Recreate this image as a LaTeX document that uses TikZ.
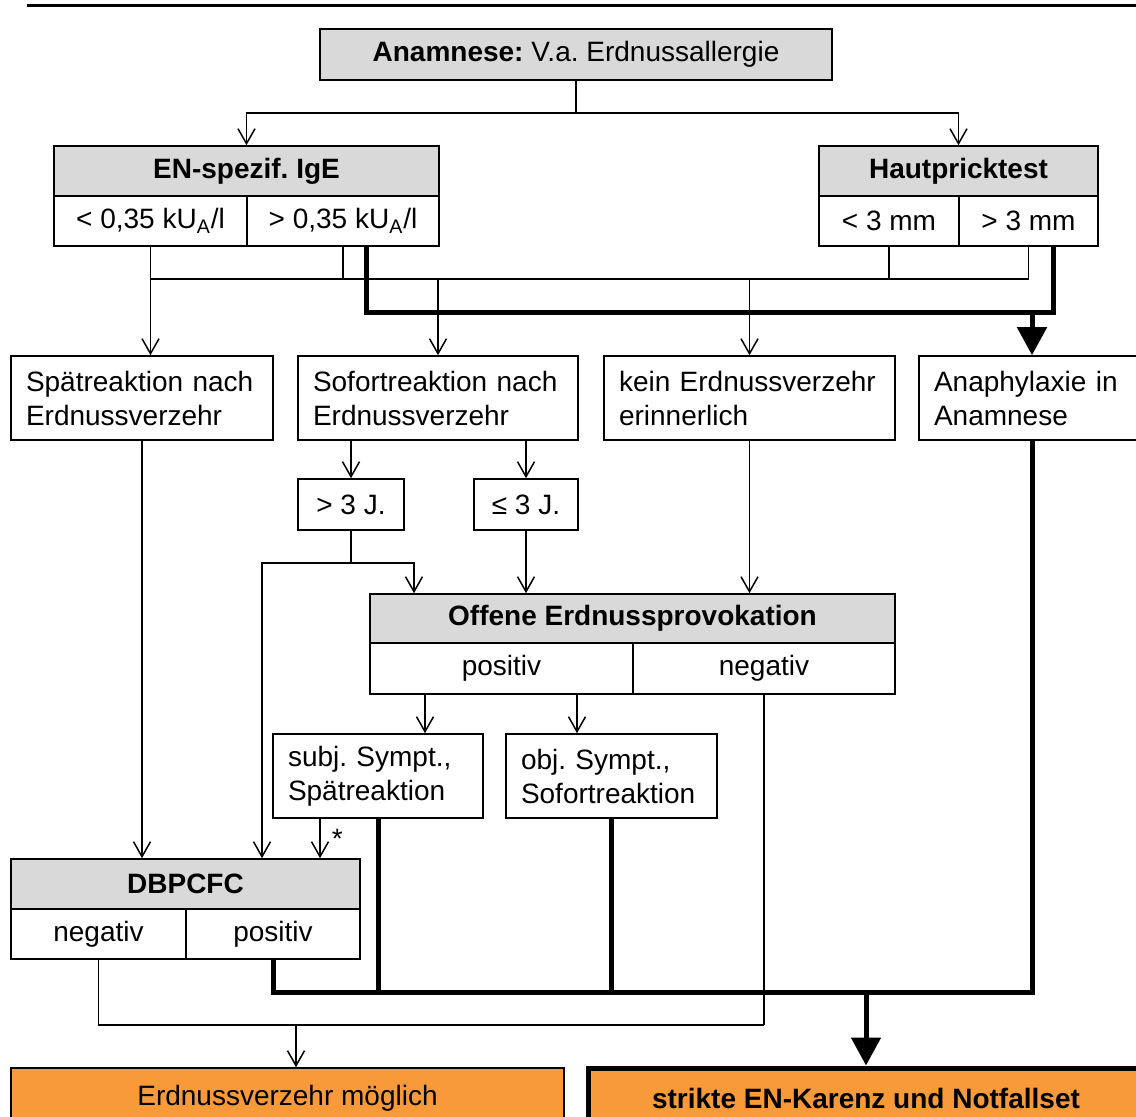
\documentclass[tikz,border=0pt]{standalone}
\usepackage{fontspec}
\setmainfont{Liberation Sans}
\usetikzlibrary{arrows.meta,calc}
\definecolor{headgray}{RGB}{217,217,217}
\definecolor{orangefill}{RGB}{248,154,58}
\newcommand\boxfont{\fontsize{14}{17}\selectfont\frenchspacing}
\tikzset{
  cell/.style={draw, line width=0.8pt, inner sep=0pt, align=center, font=\boxfont},
  wh/.style 2 args={minimum width=#1pt, minimum height=#2pt},
  headcell/.style={cell, fill=headgray, font=\boxfont\bfseries},
  textcell/.style={cell, align=left, inner xsep=7.5pt, text width=#1, minimum height=42pt},
  endcell/.style={cell, fill=orangefill},
  conn/.style={line width=0.75pt},
  arr/.style={conn, -{Straight Barb[length=7.5pt,width=8.5pt,line width=0.75pt]}},
  fat/.style={line width=2.5pt},
  fatarr/.style={fat, -{Triangle[length=14pt,width=14.5pt]}}
}
\begin{document}
\begin{tikzpicture}[x=0.5pt,y=-0.5pt]
\useasboundingbox (0,0) rectangle (1136,1117);
\draw[line width=1.5pt] (27,6) -- (1136,6);

\node[headcell, wh={256}{25.5}, font=\boxfont] (anam) at (576,54.5) {\textbf{Anamnese:} V.a. Erdnussallergie};

\node[headcell, wh={192.5}{25}] (ige) at (246.5,171) {EN-spezif. IgE};
\node[cell, wh={96.5}{25}] (igelo) at (150.5,221) {< 0,35 kU\textsubscript{A}/l};
\node[cell, wh={96}{25}] (igehi) at (343,221) {> 0,35 kU\textsubscript{A}/l};
\node[headcell, wh={139.5}{25}] (haut) at (958.5,171) {Hautpricktest};
\node[cell, wh={70}{25}] (hautlo) at (889,221) {< 3 mm};
\node[cell, wh={69.5}{25}] (hauthi) at (1028.5,221) {> 3 mm};

\node[textcell=116pt] (spaet) at (142,398) {Spätreaktion nach\\Erdnussverzehr};
\node[textcell=125pt] (sofort) at (438,398) {Sofortreaktion nach\\Erdnussverzehr};
\node[textcell=130.5pt] (kein) at (749.5,398) {kein Erdnussverzehr\\erinnerlich};
\node[textcell=98pt] (anaph) at (1032,398) {Anaphylaxie in\\Anamnese};

\node[cell, wh={53}{25.5}] (gt3) at (351,504.5) {> 3 J.};
\node[cell, wh={52}{25.5}] (le3) at (526,504.5) {≤ 3 J.};

\node[headcell, wh={262.5}{24.5}] (offen) at (632.5,618.5) {Offene Erdnussprovokation};
\node[cell, wh={131.5}{25.5}] (offpos) at (501.5,668.5) {positiv};
\node[cell, wh={131}{25.5}] (offneg) at (764,668.5) {negativ};

\node[textcell=90pt] (subj) at (378,776) {subj. Sympt.,\\Spätreaktion};
\node[textcell=90.5pt] (obj) at (611.5,776) {obj. Sympt.,\\Sofortreaktion};

\node[headcell, wh={174.5}{25}] (dbp) at (185.5,884) {DBPCFC};
\node[cell, wh={87.5}{25}] (dbpneg) at (98.5,934) {negativ};
\node[cell, wh={87}{25}] (dbppos) at (273,934) {positiv};

\node[endcell, wh={276.5}{30}] (ok) at (287.5,1098) {Erdnussverzehr möglich};
\node[endcell, wh={278}{30}, line width=2.5pt, font=\boxfont\bfseries] (karenz) at (866,1098) {strikte EN-Karenz und Notfallset};

\coordinate (bus) at (0,279);
\coordinate (fatbus) at (0,313);
\coordinate (agebus) at (0,563);
\coordinate (lowbus) at (0,992);
\coordinate (okbus) at (0,1025);

\draw[arr] (anam.south) -- ++(0,32) -| (ige.north);
\draw[arr] (anam.south) -- ++(0,32) -| (haut.north);

\draw[arr] (igelo.south) -- (igelo.south |- spaet.north);
\draw[conn] (igehi.south) -- (igehi.south |- bus);
\draw[conn] (hautlo.south) -- (hautlo.south |- bus);
\draw[conn] (hauthi.south) -- (hauthi.south |- bus);
\draw[conn] (igelo.south |- bus) -- (hauthi.south |- bus);
\draw[arr] (sofort.north |- bus) -- (sofort.north);
\draw[arr] (kein.north |- bus) -- (kein.north);

\coordinate (t1) at ($(igehi.south)+(23,0)$);
\coordinate (t2) at ($(hauthi.south)+(25,0)$);
\draw[fat] (t1) |- (t2 |- fatbus) -- (t2);
\draw[fatarr] (anaph.north |- fatbus) -- (anaph.north);

\draw[arr] (spaet.south) -- (spaet.south |- dbp.north);
\draw[arr] (sofort.south -| gt3.north) -- (gt3.north);
\draw[arr] (sofort.south -| le3.north) -- (le3.north);
\coordinate (g1) at ($(dbp.north)+(76.5,0)$);
\coordinate (g2) at ($(offen.north)+(-218.5,0)$);
\draw[arr] (gt3.south) -- (gt3.south |- agebus) -| (g1);
\draw[arr] (gt3.south |- agebus) -| (g2);
\draw[arr] (le3.south) -- (le3.south |- offen.north);
\draw[arr] (kein.south) -- (kein.south |- offen.north);

\coordinate (p1) at ($(offpos.south)+(-76.5,0)$);
\coordinate (p2) at ($(offpos.south)+(75.5,0)$);
\draw[arr] (p1) -- (p1 |- subj.north);
\draw[arr] (p2) -- (p2 |- obj.north);
\draw[conn] (offneg.south) -- (offneg.south |- okbus);

\coordinate (s1) at ($(subj.south)+(-58,0)$);
\draw[arr] (s1) -- (s1 |- dbp.north) node[pos=0.5, right=5.5pt, inner sep=0pt, font=\boxfont] (star) {*};

\draw[fat] (subj.south) -- (subj.south |- lowbus);
\draw[fat] (obj.south) -- (obj.south |- lowbus);
\draw[fat] (anaph.south) -- (anaph.south |- lowbus) -| (dbppos.south);
\draw[fatarr] (karenz.north |- lowbus) -- (karenz.north);

\coordinate (e1) at ($(ok.north)+(8.5,0)$);
\draw[conn] (dbpneg.south) |- (offneg.south |- okbus);
\draw[arr] (e1 |- okbus) -- (e1);
\end{tikzpicture}
\end{document}
